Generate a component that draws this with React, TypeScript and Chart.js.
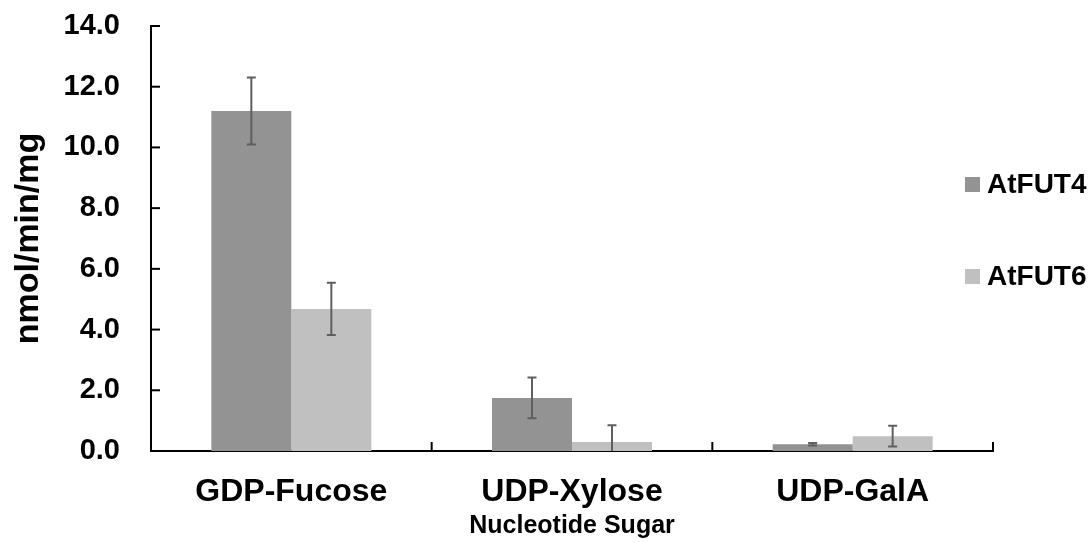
import React, { useEffect, useRef } from "react";
import { Chart, registerables } from "chart.js";

Chart.register(...registerables);

const categories = ["GDP-Fucose", "UDP-Xylose", "UDP-GalA"];
const seriesNames = ["AtFUT4", "AtFUT6"];
const fut4Values = [11.2, 1.75, 0.22];
const fut6Values = [4.68, 0.3, 0.49];
const fut4Errors = [1.1, 0.67, 0.04];
const fut6Errors = [0.86, 0.55, 0.34];
const yTicks = [0, 2, 4, 6, 8, 10, 12, 14];
const seriesColors = ["#939393", "#c0c0c0"];

const FONT = "'Liberation Sans', Arial, sans-serif";

const errorBarPlugin = {
  id: "errorBars",
  afterDatasetsDraw(chart: any) {
    const ctx = chart.ctx;
    const yScale = chart.scales.y;
    const area = chart.chartArea;
    const errs = [fut4Errors, fut6Errors];
    ctx.save();
    ctx.beginPath();
    ctx.rect(area.left, area.top - 10, area.right - area.left, area.bottom - area.top + 10);
    ctx.clip();
    ctx.strokeStyle = "#5f5f5f";
    ctx.lineWidth = 2;
    chart.data.datasets.forEach((ds: any, i: number) => {
      const meta = chart.getDatasetMeta(i);
      meta.data.forEach((el: any, j: number) => {
        const v = ds.data[j];
        const e = errs[i][j];
        const x = el.x;
        const yt = yScale.getPixelForValue(v + e);
        const yb = yScale.getPixelForValue(v - e);
        ctx.beginPath();
        ctx.moveTo(x, yt);
        ctx.lineTo(x, yb);
        ctx.moveTo(x - 4.5, yt);
        ctx.lineTo(x + 4.5, yt);
        ctx.moveTo(x - 4.5, yb);
        ctx.lineTo(x + 4.5, yb);
        ctx.stroke();
      });
    });
    ctx.restore();
  },
};

const axisTickPlugin = {
  id: "inwardTicks",
  afterDraw(chart: any) {
    const ctx = chart.ctx;
    const area = chart.chartArea;
    const yScale = chart.scales.y;
    const xScale = chart.scales.x;
    ctx.save();
    ctx.strokeStyle = "#000";
    ctx.lineWidth = 2;
    yTicks.forEach((t) => {
      const y = yScale.getPixelForValue(t);
      ctx.beginPath();
      ctx.moveTo(area.left, y);
      ctx.lineTo(area.left + 9, y);
      ctx.stroke();
    });
    for (let i = 0; i <= categories.length; i++) {
      const x = xScale.getPixelForValue(i - 0.5);
      ctx.beginPath();
      ctx.moveTo(x, area.bottom);
      ctx.lineTo(x, area.bottom - 9);
      ctx.stroke();
    }
    ctx.restore();
  },
};

const legendPlugin = {
  id: "customLegend",
  afterDraw(chart: any) {
    const ctx = chart.ctx;
    const ys = [184, 276];
    ctx.save();
    chart.data.datasets.forEach((ds: any, i: number) => {
      const y = ys[i];
      ctx.fillStyle = ds.backgroundColor;
      ctx.fillRect(965, y - 7, 15, 15);
      ctx.fillStyle = "#000";
      ctx.font = `bold 28px ${FONT}`;
      ctx.textAlign = "left";
      ctx.textBaseline = "middle";
      ctx.fillText(ds.label, 987, y + 1);
    });
    ctx.restore();
  },
};

export default function App() {
  const canvasRef = useRef<HTMLCanvasElement | null>(null);

  useEffect(() => {
    document.body.style.margin = "0";
    const canvas = canvasRef.current;
    if (!canvas) return;
    const chart = new Chart(canvas, {
      type: "bar",
      data: {
        labels: categories,
        datasets: [
          {
            label: seriesNames[0],
            data: fut4Values,
            backgroundColor: seriesColors[0],
            barPercentage: 1,
            categoryPercentage: 0.57,
          },
          {
            label: seriesNames[1],
            data: fut6Values,
            backgroundColor: seriesColors[1],
            barPercentage: 1,
            categoryPercentage: 0.57,
          },
        ],
      },
      options: {
        animation: false,
        responsive: true,
        maintainAspectRatio: false,
        layout: { padding: { top: 26, right: 98, left: 0, bottom: 0 } },
        plugins: {
          legend: { display: false },
          tooltip: { enabled: false },
        },
        scales: {
          x: {
            grid: { display: false, drawTicks: false },
            border: { display: true, color: "#000", width: 2 },
            ticks: {
              color: "#000",
              padding: 22,
              font: { family: FONT, size: 32, weight: "bold" },
            },
            title: {
              display: true,
              text: "Nucleotide Sugar",
              color: "#000",
              padding: { top: 0, bottom: 2 },
              font: { family: FONT, size: 25, weight: "bold" },
            },
            afterFit(scale: any) {
              scale.height = 92;
              scale.paddingLeft = 0;
              scale.paddingRight = 0;
            },
          },
          y: {
            min: 0,
            max: 14,
            grid: { display: false, drawTicks: false },
            border: { display: true, color: "#000", width: 2 },
            afterBuildTicks(scale: any) {
              scale.ticks = yTicks.map((v) => ({ value: v }));
            },
            ticks: {
              color: "#000",
              padding: 31,
              font: { family: FONT, size: 29, weight: "bold" },
              callback: (v: any) => Number(v).toFixed(1),
            },
            title: {
              display: true,
              text: "nmol/min/mg",
              color: "#000",
              padding: { top: 8, bottom: 0 },
              font: { family: FONT, size: 34, weight: "bold" },
            },
            afterFit(scale: any) {
              scale.width = 151;
              scale.paddingTop = 0;
              scale.paddingBottom = 0;
            },
          },
        },
      },
      plugins: [errorBarPlugin, axisTickPlugin, legendPlugin],
    });
    return () => chart.destroy();
  }, []);

  return (
    <div style={{ width: "1091px", height: "543px", position: "relative" }}>
      <canvas ref={canvasRef} />
    </div>
  );
}
